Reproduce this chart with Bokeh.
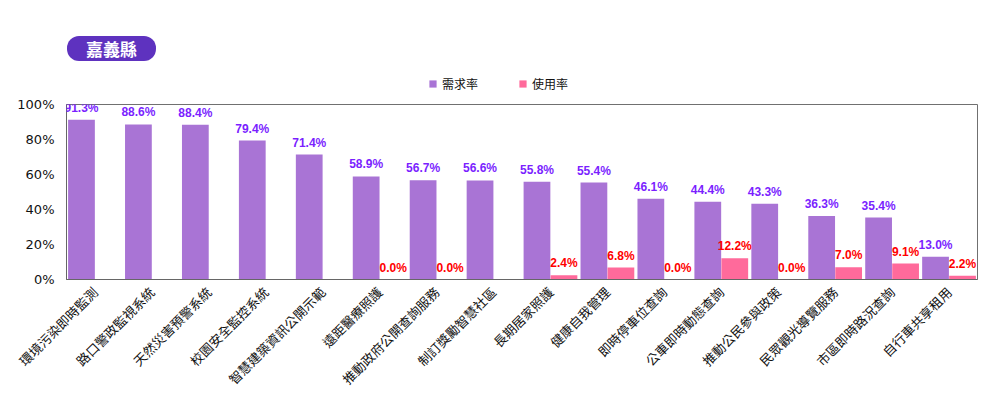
import math
from bokeh.plotting import figure
from bokeh.layouts import column
from bokeh.models import (ColumnDataSource, FactorRange, Range1d, LabelSet, Label,
                          Legend, LegendItem, PrintfTickFormatter)
from bokeh.transform import dodge
from bokeh.core.properties import value
from bokeh.embed import file_html
from bokeh.resources import INLINE

title_text = "嘉義縣"
categories = ["環境污染即時監測", "路口警政監視系統", "天然災害預警系統", "校園安全監控系統",
              "智慧建築資訊公開示範", "遠距醫療照護", "推動政府公開查詢服務", "制訂獎勵智慧社區",
              "長期居家照護", "健康自我管理", "即時停車位查詢", "公車即時動態查詢",
              "推動公民參與政策", "民眾觀光導覽服務", "市區即時路況查詢", "自行車共享租用"]
demand = [91.3, 88.6, 88.4, 79.4, 71.4, 58.9, 56.7, 56.6, 55.8, 55.4, 46.1, 44.4, 43.3, 36.3, 35.4, 13.0]
usage = [None, None, None, None, None, 0.0, 0.0, None, 2.4, 6.8, 0.0, 12.2, 0.0, 7.0, 9.1, 2.2]
series_names = ["需求率", "使用率"]
y_ticks = [0, 20, 40, 60, 80, 100]

PURPLE = "#A974D5"
PINK = "#FF6A9B"

usage_vals = [float("nan") if u is None else u for u in usage]
src = ColumnDataSource(dict(cat=categories, demand=demand, usage=usage_vals,
                            dlab=[f"{d:.1f}%" for d in demand]))
ucats = [c for c, u in zip(categories, usage) if u is not None]
uvals = [u for u in usage if u is not None]
usrc = ColumnDataSource(dict(cat=ucats, usage=uvals, ulab=[f"{u:.1f}%" for u in uvals]))

# ---------------- header (title badge + legend) ----------------
hdr = figure(width=990, height=94, x_range=Range1d(0, 1), y_range=Range1d(0, 1),
             output_backend="svg", toolbar_location=None,
             min_border_left=0, min_border_right=0, min_border_top=0, min_border_bottom=0)
hdr.axis.visible = False
hdr.grid.visible = False
hdr.outline_line_color = None
# legend-only renderers (zero-height, not visible in the header)
swatch = ColumnDataSource(dict(x=[0.5], top=[0.0]))
h1 = hdr.vbar(x="x", top="top", width=0.0, source=swatch, fill_color=PURPLE, line_color=None)
h2 = hdr.vbar(x="x", top="top", width=0.0, source=swatch, fill_color=PINK, line_color=None)
legend = Legend(items=[LegendItem(label=series_names[0], renderers=[h1]),
                       LegendItem(label=series_names[1], renderers=[h2])],
                orientation="horizontal", location=(362, 2),
                border_line_color=None, background_fill_alpha=0,
                padding=0, margin=0, spacing=40, glyph_width=9, glyph_height=9,
                label_standoff=5, label_height=18,
                label_text_font="Noto Sans CJK TC", label_text_font_size="12px",
                label_text_color="#111111")
hdr.add_layout(legend, "center")
badge = Label(x=45, y=46, x_units="screen", y_units="screen", text=title_text,
              text_align="center", text_baseline="middle",
              text_font="Noto Sans CJK TC", text_font_style="bold", text_font_size="17px",
              text_color="white", background_fill_color="#5E32BF",
              padding=(19, 19, 0, 0), border_radius=12)
hdr.add_layout(badge)

# ---------------- main chart ----------------
p = figure(width=990, height=303, x_range=FactorRange(*categories), y_range=Range1d(0, 100),
           output_backend="svg", toolbar_location=None,
           min_border_left=66, min_border_right=13, min_border_top=10, min_border_bottom=117)
p.xgrid.grid_line_color = None
p.ygrid.grid_line_color = None
p.outline_line_color = "#707070"
p.outline_line_width = 1
p.x_range.range_padding = 0

off = 0.237
p.vbar(x=dodge("cat", -off, range=p.x_range), top="demand", width=0.47, source=src,
       fill_color=PURPLE, line_color=None)
p.vbar(x=dodge("cat", off, range=p.x_range), top="usage", width=0.47, source=src,
       fill_color=PINK, line_color=None)

lab1 = LabelSet(x=dodge("cat", -off, range=p.x_range), y="demand", text="dlab", source=src,
                text_align="center", text_baseline="middle", y_offset=12,
                text_font=value("Liberation Sans"), text_font_style="bold",
                text_font_size="12px", text_color="#7B1FFF")
lab2 = LabelSet(x=dodge("cat", off, range=p.x_range), y="usage", text="ulab", source=usrc,
                text_align="center", text_baseline="middle", y_offset=12,
                text_font=value("Liberation Sans"), text_font_style="bold",
                text_font_size="12px", text_color="#FF0000")
p.add_layout(lab1)
p.add_layout(lab2)

p.yaxis.ticker = y_ticks
p.yaxis.formatter = PrintfTickFormatter(format="%d%%")
p.yaxis.major_tick_line_color = None
p.yaxis.minor_tick_line_color = None
p.yaxis.major_tick_out = 0
p.yaxis.major_label_standoff = 12
p.yaxis.axis_line_color = "#666666"
p.yaxis.major_label_text_font = "DejaVu Sans"
p.yaxis.major_label_text_font_size = "13px"
p.yaxis.major_label_text_color = "#111111"

p.xaxis.major_tick_line_color = None
p.xaxis.major_tick_out = 0
p.xaxis.axis_line_color = "#666666"
p.xaxis.major_label_orientation = math.pi / 4
p.xaxis.major_label_standoff = 10
p.xaxis.major_label_text_font = "Noto Sans CJK TC"
p.xaxis.major_label_text_font_size = "13px"
p.xaxis.major_label_text_color = "#111111"

layout = column(hdr, p, spacing=0)
open("out.html", "w").write(file_html(layout, INLINE))
